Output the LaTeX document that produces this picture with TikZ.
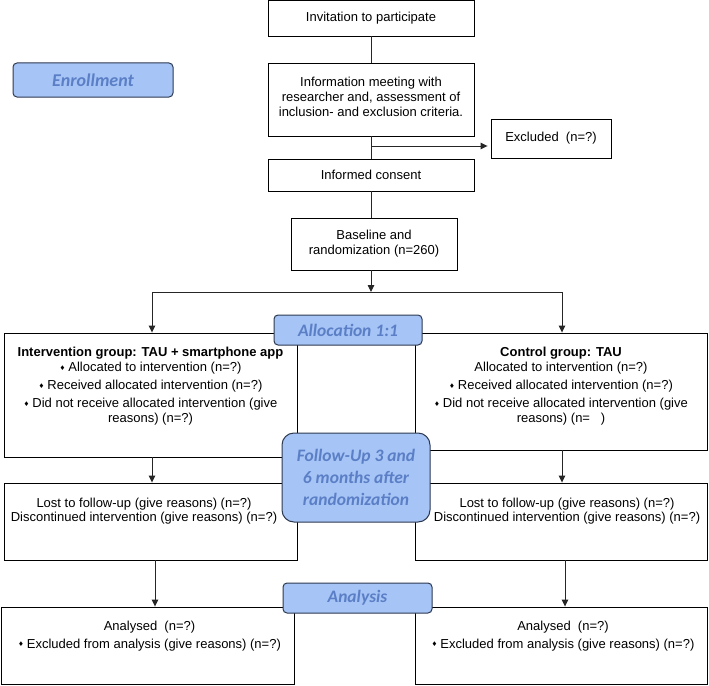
\documentclass[tikz,border=0pt]{standalone}
\usepackage{fontspec}
\setmainfont{Liberation Sans}
\newfontfamily\calfont{Carlito}
\newfontfamily\djv{DejaVu Sans}
\usetikzlibrary{arrows.meta}
\definecolor{bfill}{HTML}{A6C4F5}
\definecolor{bedge}{HTML}{2E3A52}
\definecolor{btext}{HTML}{5B7FC6}
\newcommand\bul{\raisebox{1.2pt}{\djv\fontsize{6.5}{6.5}\selectfont ♦}\hspace{3pt}}
\begin{document}
\begin{tikzpicture}[x=1pt,y=-1pt,
  box/.style={draw=black,line width=0.9pt,fill=white,inner sep=0pt,align=center,font=\fontsize{13}{15}\selectfont},
  txt/.style={inner sep=0pt,align=center,anchor=north,font=\fontsize{13}{15}\selectfont},
  phase/.style={draw=bedge,line width=1pt,fill=bfill,rounded corners=4pt,inner sep=0pt,align=center,text=btext,font=\calfont\bfseries\itshape\fontsize{17.5}{22}\selectfont},
  conn/.style={draw=black!85,line width=0.9pt},
  arr/.style={conn,-{Triangle[length=7pt,width=6.5pt]}}]
\useasboundingbox (0,0) rectangle (709,685);
\fill[white] (0,0) rectangle (709,685);

% white boxes
\node[box,minimum width=206pt,minimum height=35.5pt] (inv) at (371,18.25) {Invitation to participate};
\node[box,minimum width=206pt,minimum height=73pt] (info) at (371,99.5) {};
\node[box,minimum width=120pt,minimum height=39pt] (excl) at (551,138.5) {Excluded\ \ (n=?)};
\node[box,minimum width=206pt,minimum height=32pt] (cons) at (371,175) {Informed consent};
\node[box,minimum width=166pt,minimum height=52pt] (base) at (374,244) {Baseline and\\randomization (n=260)};

\node[box,minimum width=293pt,minimum height=124pt] (intv) at (150.5,395) {};
\node[box,minimum width=292pt,minimum height=117pt] (ctrl) at (561,391.5) {};
\node[box,minimum width=293pt,minimum height=77pt] (lostL) at (150.5,521.5) {};
\node[box,minimum width=292pt,minimum height=77pt] (lostR) at (561,521.5) {};
\node[box,minimum width=293pt,minimum height=77pt] (anL) at (147.5,645.5) {};
\node[box,minimum width=292pt,minimum height=77pt] (anR) at (561,645.5) {};

% texts inside boxes
\node[txt,anchor=center] (infoT) at (371,97) {Information meeting with\\researcher and, assessment of\\inclusion- and exclusion criteria.};
\node[txt] (intvT) at (150.5,346) {\strut\textbf{Intervention group: TAU + smartphone app}\\\bul Allocated to intervention (n=?)\\[3pt]\bul Received allocated intervention (n=?)\\[3pt]\bul Did not receive allocated intervention (give\\reasons) (n=?)};
\node[txt] (ctrlT) at (561,346) {\strut\textbf{Control group: TAU}\\Allocated to intervention (n=?)\\[3pt]\bul Received allocated intervention (n=?)\\[3pt]\bul Did not receive allocated intervention (give\\reasons) (n=\ \ \ )};
\node[txt] (lostLT) at (144,496.7) {\strut Lost to follow-up (give reasons) (n=?)\\[-1pt]Discontinued intervention (give reasons) (n=?)};
\node[txt] (lostRT) at (567,496.7) {\strut Lost to follow-up (give reasons) (n=?)\\[-1pt]Discontinued intervention (give reasons) (n=?)};
\node[txt] (anLT) at (149.5,619.7) {\strut Analysed\ \ (n=?)\\[2.6pt]\bul Excluded from analysis (give reasons) (n=?)};
\node[txt] (anRT) at (563,619.7) {\strut Analysed\ \ (n=?)\\[2.6pt]\bul Excluded from analysis (give reasons) (n=?)};

% connectors
\draw[conn] (inv.south) -- (info.north);
\draw[conn] (info.south) -- (cons.north);
\coordinate (exJ) at (371,146);
\draw[arr,shorten >=3pt] (exJ) -- (exJ -| excl.west);
\draw[conn] (cons.south) -- (cons.south |- base.north);
\coordinate (split) at (371,292);
\draw[arr] (cons.south |- base.south) -- (split);
\coordinate (sL) at (152,292);
\coordinate (sR) at (562,292);
\draw[conn] (sL) -- (sR);
\draw[arr] (sL) -- (sL |- intv.north);
\draw[arr] (sR) -- (sR |- ctrl.north);
\draw[arr] (sL |- intv.south) -- (sL |- lostL.north);
\draw[arr] (sR |- ctrl.south) -- (sR |- lostR.north);
\coordinate (tL) at (155,560);
\coordinate (tR) at (565,560);
\draw[arr] (tL) -- (tL |- anL.north);
\draw[arr] (tR) -- (tR |- anR.north);

% phase labels
\node[phase,minimum width=160pt,minimum height=34pt,font=\calfont\bfseries\itshape\fontsize{18}{22}\selectfont] (enr) at (93,80) {Enrollment};
\node[phase,minimum width=148pt,minimum height=30pt] (alloc) at (348,330) {Allocation 1:1};
\node[phase,minimum width=148pt,minimum height=89pt,rounded corners=12pt] (fu) at (356,477.5) {Follow-Up 3 and\\6 months after\\randomization};
\node[phase,minimum width=149pt,minimum height=30pt] (ana) at (357.5,598) {Analysis};
\end{tikzpicture}
\end{document}
